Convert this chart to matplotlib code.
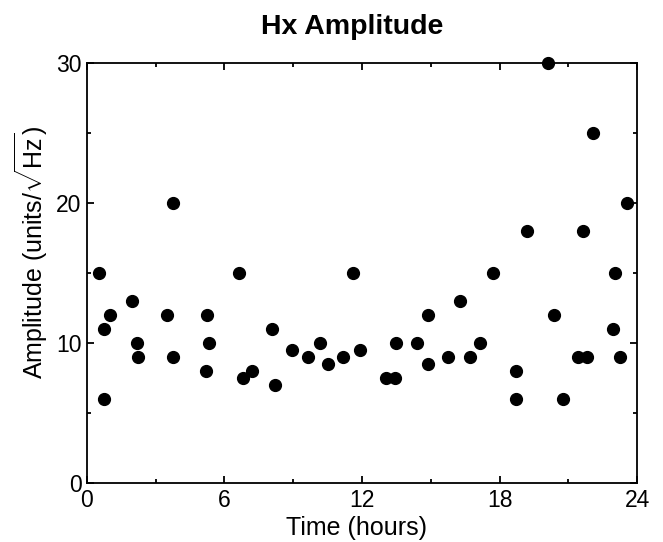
import matplotlib
matplotlib.use("Agg")
import matplotlib.pyplot as plt
from matplotlib.ticker import MultipleLocator

plt.rcParams['font.family'] = ['Liberation Sans', 'DejaVu Sans']
plt.rcParams['mathtext.fontset'] = 'custom'
plt.rcParams['mathtext.rm'] = 'Liberation Sans'

# time of day (hours) and amplitude readings
hours = [0.52, 0.74, 1.0, 0.74, 1.96, 2.2, 2.24, 3.74, 3.48, 3.74,
         5.22, 5.32, 5.18, 6.63, 6.82, 7.18, 8.06, 8.22, 8.96, 9.66,
         10.18, 10.53, 11.15, 11.59, 11.91, 13.05, 13.44, 13.48, 14.41, 14.88,
         14.88, 15.77, 16.29, 16.72, 17.15, 17.73, 19.2, 18.72, 18.7, 20.11,
         20.39, 20.75, 21.65, 21.44, 21.82, 22.09, 22.94, 23.05, 23.26, 23.55]
amplitude = [15, 11, 12, 6, 13, 10, 9, 20, 12, 9,
             12, 10, 8, 15, 7.5, 8, 11, 7, 9.5, 9,
             10, 8.5, 9, 15, 9.5, 7.5, 7.5, 10, 10, 12,
             8.5, 9, 13, 9, 10, 15, 18, 8, 6, 30,
             12, 6, 18, 9, 9, 25, 11, 15, 9, 20]

fig = plt.figure(figsize=(6.63, 5.42), dpi=100)
ax = fig.add_axes([0.1312, 0.1089, 0.8296, 0.7749])

ax.plot(hours, amplitude, 'o', color='black', markersize=8.5, clip_on=False, zorder=3)

ax.set_xlim(0, 24)
ax.set_ylim(0, 30)
ax.xaxis.set_major_locator(MultipleLocator(6))
ax.xaxis.set_minor_locator(MultipleLocator(3))
ax.yaxis.set_major_locator(MultipleLocator(10))
ax.yaxis.set_minor_locator(MultipleLocator(5))
ax.tick_params(which='both', direction='in', top=True, right=True, width=1.3, labelsize=16.5)
ax.tick_params(which='major', length=5, pad=4)
ax.tick_params(which='minor', length=3)
for s in ax.spines.values():
    s.set_linewidth(1.3)

fig.text(0.537, 0.026, 'Time (hours)', ha='center', va='center', fontsize=18)
fig.text(0.047, 0.535, r'Amplitude (units/$\sqrt{\mathrm{Hz}}$)', ha='center', va='center',
         rotation=90, fontsize=18)
fig.text(0.531, 0.950, 'Hx Amplitude', ha='center', va='center', fontsize=20.5, fontweight='bold')

fig.savefig('out.png', dpi=100)
